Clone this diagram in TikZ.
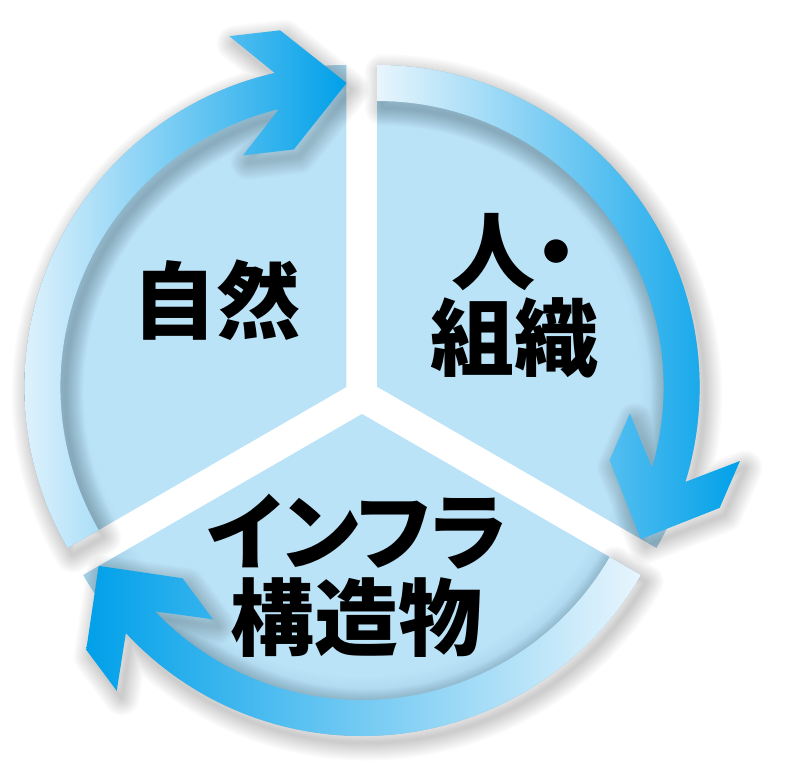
\documentclass[tikz,border=0pt]{standalone}
\usepackage{fontspec}
\newfontfamily\jpfont{Noto Sans CJK JP}[RawFeature=+palt]

\definecolor{diskblue}{HTML}{BBE3F7}
\definecolor{rimshadow}{HTML}{A8D2E9}
\definecolor{arrowblue}{HTML}{00A0E9}
\definecolor{paleblue}{HTML}{E8F5FD}

\pgfdeclareradialshading{diskshading}{\pgfpoint{0bp}{0bp}}{%
  color(0bp)=(diskblue); color(20.3bp)=(diskblue);
  color(22.2bp)=(rimshadow); color(50bp)=(rimshadow)}

% sizes of the ring
\def\Rout{322}
\def\Rin{286}
\def\Rmid{304}

% shaft + chevron head, uses \hi \send \notch \headdir
\newcommand\arrowpath{(\hi:\Rout) arc[start angle=\hi, end angle=\send, radius=\Rout]
  -- (\send:\Rin) arc[start angle=\send, end angle=\hi, radius=\Rin] -- cycle
  (\notch:\Rmid) +(\headdir:70) -- +(\headdir-80.5:60.8) -- +(\headdir-124.4:72.7)
  -- +(\headdir-90:18) -- +(\headdir+90:18) -- +(\headdir+124.4:72.7)
  -- +(\headdir+80.5:60.8) -- cycle}

\begin{document}
\begin{tikzpicture}[x=1pt, y=1pt]
\tikzset{
	piece/.style = {
		shading=diskshading
	},
	arrowshadow/.style = {
		draw=black, opacity=0.02,
		line join=round, shift={(5,-7)}
	},
	label/.style = {
		font=\jpfont\bfseries\fontsize{84}{86}\selectfont,
		align=center, inner sep=0pt
	},
}
\useasboundingbox (-362,-387) rectangle (432,396);
\fill[white] (-362,-387) rectangle (432,396);

% bisector / low angle / high angle / left colour / right colour
\def\pieces{150/90/210/paleblue/arrowblue, 30/-30/90/paleblue/arrowblue, 270/210/330/arrowblue/paleblue}

% the three sectors
\foreach \bis/\lo/\hi/\lc/\rc in \pieces
{
  \begin{scope}[shift={(\bis:18)}]
    \clip (0,0) -- (\lo:\Rout) arc[start angle=\lo, end angle=\hi, radius=\Rout] -- cycle;
    \shade[piece] (0,0) circle[radius=\Rout];
  \end{scope}
}

% soft shadows of the arrows
\foreach \bis/\lo/\hi/\lc/\rc in \pieces
{
  \pgfmathsetmacro\send{\lo+10}
  \pgfmathsetmacro\notch{\lo+13.2}
  \pgfmathsetmacro\headdir{\notch-96.6}
  \begin{scope}[shift={(\bis:18)}]
    \foreach \k in {1,...,10}{
      \pgfmathsetmacro\lw{3.5*\k}
      \path[arrowshadow, line width=\lw pt] \arrowpath;
    }
  \end{scope}
}

% the arrows
\foreach \bis/\lo/\hi/\lc/\rc in \pieces
{
  \pgfmathsetmacro\send{\lo+10}
  \pgfmathsetmacro\notch{\lo+13.2}
  \pgfmathsetmacro\headdir{\notch-96.6}
  \begin{scope}[shift={(\bis:18)}]
    \shade[left color=\lc, right color=\rc] \arrowpath;
  \end{scope}
}

% labels
\node[label] (nature) at (-145,96) {自然};
\node[label] (people) at (152,100) {人・\\組織};
\node[label] (infra) at (-5,-180) {インフラ\\構造物};

\end{tikzpicture}
\end{document}
